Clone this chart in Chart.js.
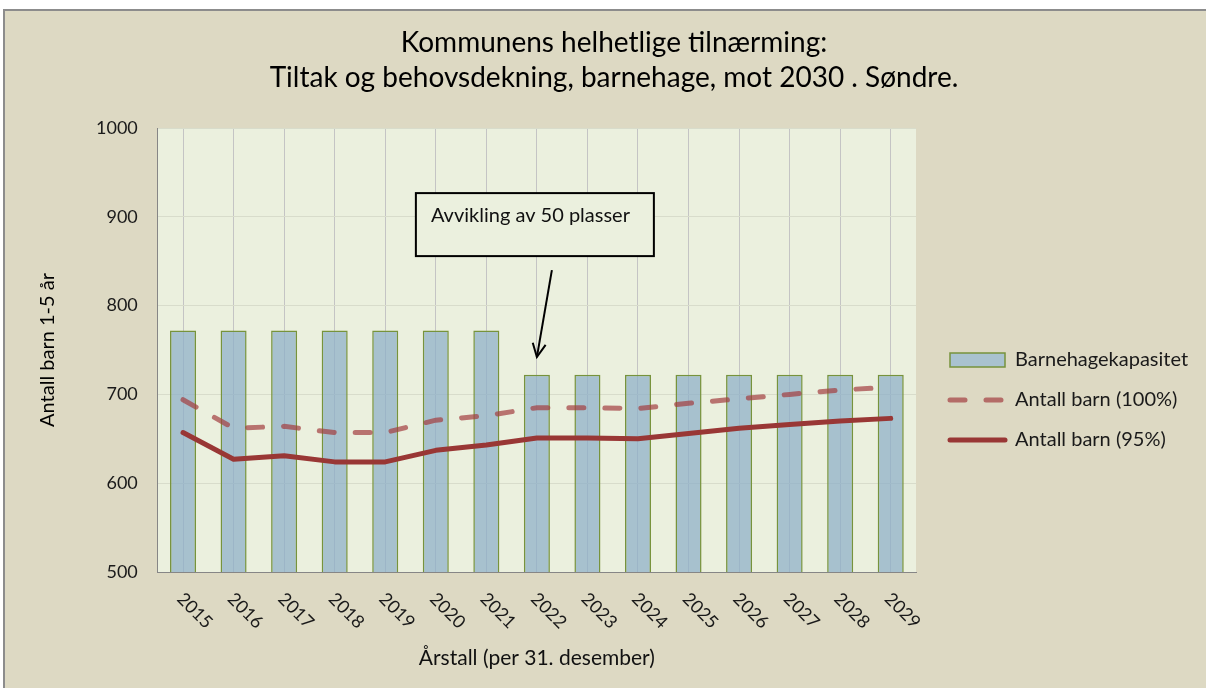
<!DOCTYPE html>
<html><head><meta charset="utf-8">
<script src="https://cdn.jsdelivr.net/npm/chart.js@4.4.0/dist/chart.umd.min.js"></script>
<style>
html,body{margin:0;padding:0;background:#fff;width:1206px;height:688px;overflow:hidden}
#frame{position:absolute;left:3px;top:9px;width:1210px;height:690px;background:#DDD9C3;border-left:2px solid #8C8C8C;border-top:2px solid #8C8C8C}
#wrap{position:absolute;left:0;top:0;width:1206px;height:688px}
</style></head><body>
<div id="frame"></div>
<div id="wrap"><canvas id="c" width="1206" height="688"></canvas></div>
<script>
const categories = ['2015','2016','2017','2018','2019','2020','2021','2022','2023','2024','2025','2026','2027','2028','2029'];
const capacity    = [772,772,772,772,772,772,772,722,722,722,722,722,722,722,722];
const children100 = [694,662,664,657,657,671,676,685,685,684,690,695,700,705,708];
const children95  = [657,627,631,624,624,637,643,651,651,650,656,662,666,670,673];
const seriesNames = ['Barnehagekapasitet','Antall barn (100%)','Antall barn (95%)'];
const titleLines = ['Kommunens helhetlige tilnærming:','Tiltak og behovsdekning, barnehage, mot 2030 . Søndre.'];
const yTitle = 'Antall barn 1-5 år';
const xTitle = 'Årstall (per 31. desember)';
const yMin = 500, yMax = 1000, yStep = 100;
const noteText = 'Avvikling av 50 plasser';
const noteCategory = 7;   // index of 2022
const noteTipValue = 742;

const FONT = 'Lato';
const PLOT_BG = '#EBF0DE';
const LEGEND_W = 282;   // space reserved right of the plot
const LEGEND_GAP = 14;  // gap between plot and legend items' padding

const plotBg = {
  id: 'plotBg',
  beforeDraw(chart) {
    const {ctx, chartArea: a} = chart;
    ctx.save(); ctx.fillStyle = PLOT_BG;
    ctx.fillRect(a.left, a.top, a.right - a.left, a.bottom - a.top);
    ctx.restore();
  }
};

const legendGap = {
  id: 'legendGap',
  beforeLayout(chart) {
    const lg = chart.legend;
    if (lg && !lg._wrapped) {
      const orig = lg.fit;
      lg.fit = function () { orig.call(this); this.width = LEGEND_W; };
      lg._wrapped = true;
    }
  },
  afterLayout(chart) {
    const lg = chart.legend;
    if (lg) { lg.left += LEGEND_GAP; }
  }
};

const xLabels = {
  id: 'xLabels',
  afterDraw(chart) {
    const {ctx, chartArea: a} = chart;
    const xs = chart.scales.x;
    ctx.save();
    ctx.font = '18px ' + FONT;
    ctx.fillStyle = '#1a1a1a';
    ctx.textAlign = 'left'; ctx.textBaseline = 'middle';
    categories.forEach((c, i) => {
      const px = xs.getPixelForValue(i);
      ctx.save();
      ctx.translate(px - 3, a.bottom + 24);
      ctx.rotate(Math.PI / 4);
      ctx.fillText(c, 0, 0);
      ctx.restore();
    });
    ctx.restore();
  }
};

const note = {
  id: 'note',
  afterDatasetsDraw(chart) {
    const {ctx} = chart;
    const xs = chart.scales.x, ys = chart.scales.y;
    const tx = xs.getPixelForValue(noteCategory), ty = ys.getPixelForValue(noteTipValue);
    const bx = tx - 121, by = ty - 164, bw = 238, bh = 63;
    ctx.save();
    ctx.fillStyle = PLOT_BG;
    ctx.fillRect(bx, by, bw, bh);
    ctx.lineWidth = 2; ctx.strokeStyle = '#000';
    ctx.strokeRect(bx, by, bw, bh);
    ctx.fillStyle = '#111';
    ctx.font = '20px ' + FONT;
    ctx.textAlign = 'left'; ctx.textBaseline = 'middle';
    ctx.fillText(noteText, bx + 15, by + 22);
    const sx = tx + 15, sy = ty - 87;
    ctx.beginPath(); ctx.moveTo(sx, sy); ctx.lineTo(tx, ty); ctx.stroke();
    const ang = Math.atan2(ty - sy, tx - sx);
    const L = 15, sp = 0.45;
    ctx.beginPath();
    ctx.moveTo(tx - L * Math.cos(ang - sp), ty - L * Math.sin(ang - sp));
    ctx.lineTo(tx, ty);
    ctx.lineTo(tx - L * Math.cos(ang + sp), ty - L * Math.sin(ang + sp));
    ctx.stroke();
    ctx.restore();
  }
};

new Chart(document.getElementById('c'), {
  data: {
    labels: categories,
    datasets: [
      { type: 'bar', label: seriesNames[0], data: capacity, order: 3,
        backgroundColor: 'rgba(140,175,200,0.72)', borderColor: '#77933C', borderWidth: 1.5,
        barPercentage: 0.515, categoryPercentage: 1 },
      { type: 'line', label: seriesNames[1], data: children100, order: 2,
        borderColor: 'rgba(163,61,64,0.7)', borderWidth: 5, borderDash: [15, 21], borderCapStyle: 'round',
        pointRadius: 0, tension: 0, fill: false },
      { type: 'line', label: seriesNames[2], data: children95, order: 1,
        borderColor: '#993735', borderWidth: 5, borderCapStyle: 'round', borderJoinStyle: 'round',
        pointRadius: 0, tension: 0, fill: false }
    ]
  },
  options: {
    responsive: false, animation: false,
    layout: { padding: { left: 30, top: 10, right: 8, bottom: 0 } },
    plugins: {
      tooltip: { enabled: false },
      title: { display: true, text: titleLines, color: '#000',
        font: { family: FONT, size: 28, weight: 'normal', lineHeight: 1.25 },
        padding: { top: 15.5, bottom: 32.5 } },
      legend: {
        position: 'right', align: 'start', fullSize: false,
        title: { display: true, text: ' ', font: { size: 1, lineHeight: 1 }, padding: { top: 0, bottom: 201 } },
        labels: {
          usePointStyle: true, pointStyleWidth: 55, boxHeight: 14, padding: 20,
          color: '#1a1a1a', font: { family: FONT, size: 20 },
          generateLabels(chart) {
            return chart.data.datasets.map((ds, i) => ({
              text: ds.label, datasetIndex: i, hidden: false,
              fillStyle: ds.type === 'bar' ? '#A9C2CF' : ds.borderColor,
              strokeStyle: ds.borderColor,
              lineWidth: ds.type === 'bar' ? 1.5 : 5,
              lineDash: ds.borderDash || [],
              lineCap: 'round',
              pointStyle: ds.type === 'bar' ? 'rect' : 'line',
              fontColor: '#1a1a1a'
            }));
          }
        }
      }
    },
    scales: {
      x: {
        offset: true,
        grid: { display: true, offset: false, color: '#C4C4C4', drawTicks: false },
        border: { display: true, color: '#868686', width: 1 },
        ticks: { display: false },
        title: { display: true, text: xTitle, color: '#111',
          font: { family: FONT, size: 21 }, padding: { top: 73.4, bottom: 17.4 } }
      },
      y: {
        min: yMin, max: yMax,
        grid: { color: '#D8DCCB', drawTicks: false },
        border: { display: true, color: '#868686', width: 1 },
        ticks: { stepSize: yStep, padding: 20, color: '#1a1a1a', font: { family: FONT, size: 18 },
          callback: (v) => String(v) },
        title: { display: true, text: yTitle, color: '#000',
          font: { family: FONT, size: 20 }, padding: { top: 6, bottom: 16 } }
      }
    }
  },
  plugins: [plotBg, legendGap, xLabels, note]
});
</script>
</body></html>
